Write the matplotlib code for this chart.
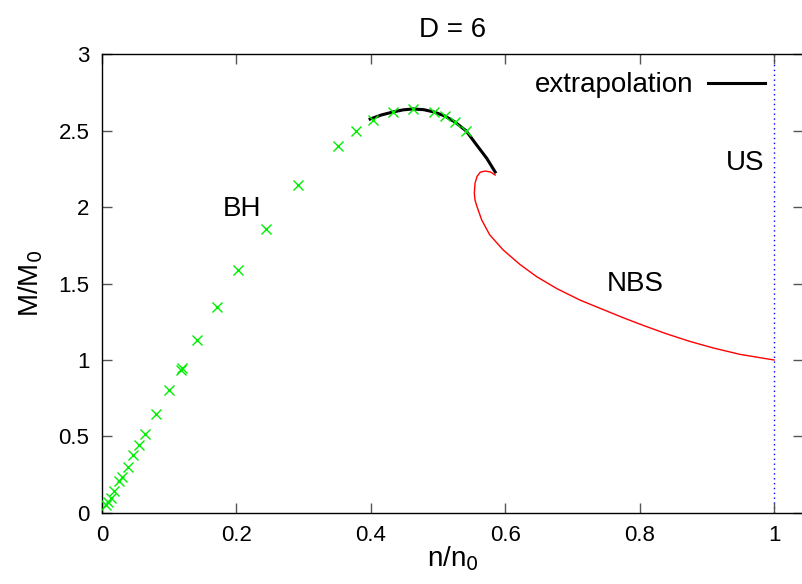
import numpy as np
import matplotlib
matplotlib.use("Agg")
import matplotlib.pyplot as plt

plt.rcParams['font.family'] = ['Liberation Sans', 'DejaVu Sans']

# black hole points (green crosses)
bh_n = [0.006, 0.009, 0.013, 0.018, 0.025, 0.030, 0.039, 0.046, 0.055, 0.064,
        0.080, 0.100, 0.117, 0.119, 0.141, 0.171, 0.202, 0.244, 0.292, 0.351,
        0.378, 0.403, 0.433, 0.463, 0.494, 0.510, 0.525, 0.542]
bh_m = [0.052, 0.072, 0.098, 0.144, 0.209, 0.235, 0.301, 0.379, 0.444, 0.516,
        0.647, 0.804, 0.935, 0.948, 1.131, 1.346, 1.588, 1.856, 2.144, 2.399,
        2.497, 2.569, 2.621, 2.641, 2.621, 2.595, 2.556, 2.497]

# extrapolation (black)
ex_n = [0.399, 0.416, 0.433, 0.448, 0.463, 0.479, 0.494, 0.510, 0.525, 0.542,
        0.5575, 0.5725, 0.585]
ex_m = [2.575, 2.602, 2.621, 2.635, 2.641, 2.636, 2.621, 2.595, 2.556, 2.497,
        2.405, 2.318, 2.229]

# non-uniform black strings (red)
nbs_n = [0.585, 0.578, 0.570, 0.563, 0.558, 0.555, 0.554, 0.555, 0.558, 0.565,
         0.577, 0.597, 0.622, 0.647, 0.677, 0.711, 0.746, 0.778, 0.806, 0.840,
         0.875, 0.910, 0.949, 1.000]
nbs_m = [2.209, 2.229, 2.235, 2.228, 2.200, 2.155, 2.090, 2.045, 2.002, 1.915,
         1.817, 1.719, 1.624, 1.544, 1.466, 1.392, 1.329, 1.272, 1.225, 1.171,
         1.121, 1.078, 1.037, 1.000]

us_n = 1.0
xticks = [0, 0.2, 0.4, 0.6, 0.8, 1]
yticks = [0, 0.5, 1, 1.5, 2, 2.5, 3]

fig = plt.figure(figsize=(8.03, 5.84), dpi=100)
ax = fig.add_axes([0.127, 0.1216, 0.873, 0.7859])

ax.plot(ex_n, ex_m, color='black', lw=2.2, label='extrapolation', zorder=2)
ax.plot(nbs_n, nbs_m, color='#ff0000', lw=1.0, zorder=2)
ax.plot(bh_n, bh_m, ls='none', marker='x', ms=6.5, mew=1.0, color='#00ee00', zorder=3)
ax.axvline(us_n, color='#0000ff', lw=1.0, ls=(0, (1, 2.5)), zorder=1)

ax.text(0.208, 1.99, 'BH', fontsize=20, ha='center', va='center')
ax.text(0.793, 1.50, 'NBS', fontsize=20, ha='center', va='center')
ax.text(0.957, 2.29, 'US', fontsize=20, ha='center', va='center')

ax.set_xlim(0, 1.043)
ax.set_ylim(0, 3)
ax.set_xticks(xticks)
ax.set_xticklabels(['0', '0.2', '0.4', '0.6', '0.8', '1'])
ax.set_yticks(yticks)
ax.set_yticklabels(['0', '0.5', '1', '1.5', '2', '2.5', '3'])
ax.tick_params(direction='in', length=7, width=1, color='#555555',
               labelsize=16, top=True, right=True, pad=9)
for s in ax.spines.values():
    s.set_linewidth(1.0)

ax.set_xlabel('n/n$_0$', fontsize=20, labelpad=-2)
ax.set_ylabel('M/M$_0$', fontsize=20, labelpad=10)
ax.set_title('D = 6', fontsize=20, pad=12)

ax.legend(loc='center right', bbox_to_anchor=(0.946, 0.932), frameon=False,
          markerfirst=False, fontsize=20, borderpad=0, borderaxespad=0,
          handlelength=2.05, handletextpad=0.55)

fig.savefig('out.png', dpi=100)
